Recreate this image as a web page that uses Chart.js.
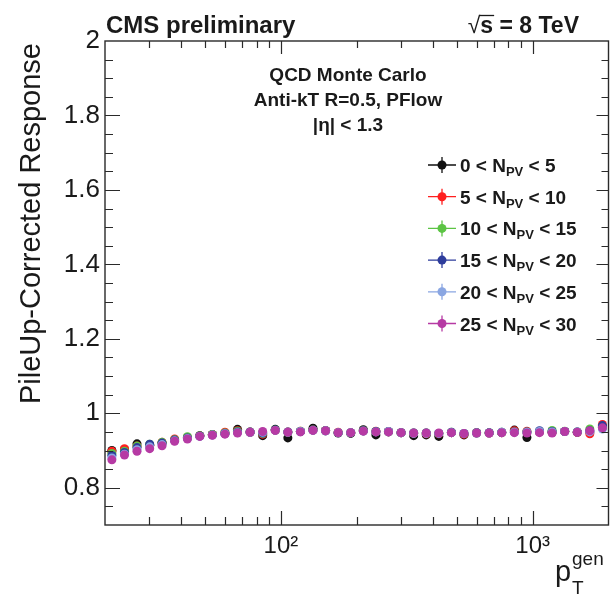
<!DOCTYPE html>
<html>
<head>
<meta charset="utf-8">
<script src="https://cdn.jsdelivr.net/npm/chart.js@4/dist/chart.umd.min.js"></script>
<style>
html,body{margin:0;padding:0;background:#fff;}
#wrap{width:613px;height:595px;}
</style>
</head>
<body>
<div id="wrap"><canvas id="c" width="613" height="595"></canvas></div>
<script>
// ---- data ----
const ptGen = [21.3, 23.9, 26.8, 30.1, 33.7, 37.8, 42.5, 47.6, 53.4, 59.9, 67.2, 75.4, 84.6, 94.9, 106.5, 119.5, 134.0, 150.4, 168.7, 189.3, 212.4, 238.3, 267.4, 300.0, 336.6, 377.6, 423.7, 475.4, 533.4, 598.5, 671.5, 753.4, 845.3, 948.4, 1064, 1194, 1340, 1503, 1686, 1892];
const npv0to5   = [0.900, 0.903, 0.918, 0.914, 0.920, 0.928, 0.934, 0.940, 0.943, 0.946, 0.957, 0.949, 0.940, 0.957, 0.934, 0.951, 0.960, 0.953, 0.947, 0.946, 0.956, 0.942, 0.950, 0.948, 0.940, 0.942, 0.938, 0.948, 0.942, 0.947, 0.947, 0.948, 0.955, 0.935, 0.950, 0.949, 0.951, 0.949, 0.950, 0.962];
const npv5to10  = [0.898, 0.905, 0.912, 0.914, 0.922, 0.931, 0.935, 0.940, 0.943, 0.949, 0.953, 0.950, 0.944, 0.954, 0.950, 0.952, 0.955, 0.954, 0.949, 0.948, 0.953, 0.952, 0.951, 0.948, 0.946, 0.945, 0.945, 0.948, 0.944, 0.948, 0.947, 0.948, 0.953, 0.952, 0.950, 0.949, 0.951, 0.949, 0.945, 0.970];
const npv10to15 = [0.892, 0.898, 0.912, 0.917, 0.922, 0.929, 0.937, 0.940, 0.943, 0.947, 0.952, 0.950, 0.946, 0.955, 0.949, 0.952, 0.955, 0.954, 0.948, 0.948, 0.953, 0.951, 0.951, 0.948, 0.947, 0.947, 0.946, 0.949, 0.946, 0.948, 0.948, 0.949, 0.950, 0.950, 0.951, 0.954, 0.952, 0.950, 0.958, 0.965];
const npv15to20 = [0.887, 0.895, 0.908, 0.917, 0.920, 0.928, 0.934, 0.939, 0.942, 0.946, 0.950, 0.950, 0.947, 0.955, 0.950, 0.951, 0.955, 0.953, 0.948, 0.948, 0.953, 0.951, 0.951, 0.948, 0.947, 0.947, 0.946, 0.949, 0.946, 0.948, 0.948, 0.949, 0.950, 0.950, 0.953, 0.951, 0.951, 0.950, 0.953, 0.967];
const npv20to25 = [0.880, 0.890, 0.902, 0.910, 0.916, 0.926, 0.932, 0.938, 0.942, 0.945, 0.948, 0.949, 0.949, 0.954, 0.949, 0.951, 0.954, 0.953, 0.948, 0.948, 0.952, 0.950, 0.951, 0.948, 0.946, 0.946, 0.946, 0.948, 0.946, 0.947, 0.947, 0.949, 0.949, 0.949, 0.951, 0.950, 0.951, 0.950, 0.950, 0.958];
const npv25to30 = [0.875, 0.888, 0.898, 0.905, 0.913, 0.925, 0.931, 0.938, 0.941, 0.944, 0.947, 0.949, 0.951, 0.954, 0.949, 0.950, 0.954, 0.953, 0.948, 0.948, 0.952, 0.950, 0.950, 0.948, 0.947, 0.947, 0.947, 0.948, 0.946, 0.947, 0.947, 0.948, 0.948, 0.947, 0.948, 0.947, 0.951, 0.949, 0.953, 0.961];
const seriesLo = ['0', '5', '10', '15', '20', '25'];
const seriesHi = ['5', '10', '15', '20', '25', '30'];
const seriesColors = ['#111111', '#ff1f1f', '#5cc444', '#2e3d9c', '#8aa6e2', '#b63aa4'];
const yTickValues = [0.8, 1.0, 1.2, 1.4, 1.6, 1.8, 2.0];
const yTickLabels = ['0.8', '1', '1.2', '1.4', '1.6', '1.8', '2'];
const xTickValues = [100, 1000];
const xTickLabels = ['10\u00B2', '10\u00B3'];
const xMinorTicks = [30, 40, 50, 60, 70, 80, 90, 200, 300, 400, 500, 600, 700, 800, 900];
const yTitle = 'PileUp-Corrected Response';
const infoLines = ['QCD Monte Carlo', 'Anti-kT R=0.5, PFlow', '|\u03B7| < 1.3'];

const allSeries = [npv0to5, npv5to10, npv10to15, npv15to20, npv20to25, npv25to30];

const datasets = allSeries.map((vals, i) => ({
  label: seriesLo[i] + ' < NPV < ' + seriesHi[i],
  data: vals.map((v, j) => ({x: ptGen[j], y: v})),
  backgroundColor: seriesColors[i],
  borderColor: seriesColors[i],
  pointRadius: 4.5,
  pointBorderWidth: 0,
  showLine: false,
  order: allSeries.length - i
}));

const FONT = '"Liberation Sans", Arial, Helvetica, sans-serif';
const AXC = '#2a2a2a';

const decor = {
  id: 'decor',
  afterDatasetsDraw(chart) {
    const ctx = chart.ctx, a = chart.chartArea;
    const xs = chart.scales.x, ys = chart.scales.y;
    ctx.save();
    ctx.strokeStyle = AXC;
    ctx.lineWidth = 1.4;
    ctx.strokeRect(a.left, a.top, a.right - a.left, a.bottom - a.top);
    ctx.lineWidth = 1.2;
    ctx.beginPath();
    xTickValues.forEach(v => {
      const px = Math.round(xs.getPixelForValue(v)) + 0.5;
      ctx.moveTo(px, a.bottom); ctx.lineTo(px, a.bottom - 14);
      ctx.moveTo(px, a.top); ctx.lineTo(px, a.top + 13);
    });
    xMinorTicks.forEach(v => {
      const px = Math.round(xs.getPixelForValue(v)) + 0.5;
      ctx.moveTo(px, a.bottom); ctx.lineTo(px, a.bottom - 8);
      ctx.moveTo(px, a.top); ctx.lineTo(px, a.top + 7);
    });
    for (let k = 15; k <= 39; k++) {
      const v = k * 0.05;
      const py = Math.round(ys.getPixelForValue(v)) + 0.5;
      const major = (k % 4 === 0);
      ctx.moveTo(a.left, py); ctx.lineTo(a.left + (major ? 15 : 8), py);
      ctx.moveTo(a.right, py); ctx.lineTo(a.right - (major ? 12 : 7), py);
    }
    ctx.stroke();
    ctx.restore();
  },
  afterDraw(chart) {
    const ctx = chart.ctx;
    ctx.save();
    ctx.fillStyle = '#1a1a1a';
    ctx.textBaseline = 'alphabetic';
    // header
    ctx.font = 'bold 24px ' + FONT;
    ctx.textAlign = 'left';
    ctx.fillText('CMS preliminary', 106, 33);
    ctx.font = 'bold 23px ' + FONT;
    ctx.textAlign = 'right';
    const rest = 's = 8 TeV';
    const restW = ctx.measureText(rest).width;
    const rx = 579;
    ctx.fillText(rest, rx, 33);
    const sW = ctx.measureText('s').width;
    ctx.font = '23px ' + FONT;
    ctx.fillText('\u221A', rx - restW, 33);
    ctx.strokeStyle = '#1a1a1a';
    ctx.lineWidth = 1.3;
    ctx.beginPath();
    ctx.moveTo(rx - restW - 1, 15.5); ctx.lineTo(rx - restW + sW + 1, 15.5);
    ctx.stroke();
    // info text
    ctx.font = 'bold 19px ' + FONT;
    ctx.textAlign = 'center';
    const cx = 348;
    ctx.fillText(infoLines[0], cx, 81);
    ctx.fillText(infoLines[1], cx, 106);
    ctx.fillText(infoLines[2], cx, 131);
    // legend
    for (let i = 0; i < seriesColors.length; i++) {
      const yc = 165 + i * 31.7;
      const mx = 442;
      ctx.strokeStyle = seriesColors[i];
      ctx.lineWidth = 1.3;
      ctx.beginPath();
      ctx.moveTo(428, yc); ctx.lineTo(456, yc);
      ctx.moveTo(mx, yc - 8); ctx.lineTo(mx, yc + 8);
      ctx.stroke();
      ctx.fillStyle = seriesColors[i];
      ctx.beginPath(); ctx.arc(mx, yc, 4.5, 0, Math.PI * 2); ctx.fill();
      ctx.fillStyle = '#1a1a1a';
      ctx.textAlign = 'left';
      ctx.font = 'bold 19px ' + FONT;
      let x = 460;
      const t1 = seriesLo[i] + ' < N';
      ctx.fillText(t1, x, yc + 7);
      x += ctx.measureText(t1).width;
      ctx.font = 'bold 13px ' + FONT;
      ctx.fillText('PV', x, yc + 11);
      x += ctx.measureText('PV').width;
      ctx.font = 'bold 19px ' + FONT;
      ctx.fillText(' < ' + seriesHi[i], x, yc + 7);
    }
    // y title
    ctx.save();
    ctx.translate(40, 43);
    ctx.rotate(-Math.PI / 2);
    ctx.font = '29px ' + FONT;
    ctx.textAlign = 'right';
    ctx.textBaseline = 'alphabetic';
    ctx.fillText(yTitle, 0, 0);
    ctx.restore();
    // x title p_T^gen
    ctx.textAlign = 'left';
    ctx.font = '29px ' + FONT;
    ctx.fillText('p', 555, 581);
    ctx.font = '19px ' + FONT;
    ctx.fillText('gen', 572, 565);
    ctx.fillText('T', 572, 594);
    ctx.restore();
  }
};

new Chart(document.getElementById('c'), {
  type: 'scatter',
  data: {datasets},
  options: {
    responsive: false,
    animation: false,
    events: [],
    layout: {padding: {left: 0, top: 41, right: 4, bottom: 0}},
    plugins: {legend: {display: false}, tooltip: {enabled: false}},
    scales: {
      x: {
        type: 'logarithmic',
        min: 20, max: 2000,
        grid: {display: false, drawTicks: false},
        border: {display: false},
        afterBuildTicks: s => { s.ticks = xTickValues.map(v => ({value: v})); },
        afterFit: s => { s.height = 70; },
        ticks: {
          autoSkip: false, maxRotation: 0, padding: 7,
          color: '#1a1a1a', font: {family: FONT, size: 24},
          callback: (v) => xTickLabels[xTickValues.indexOf(v)]
        }
      },
      y: {
        type: 'linear',
        min: 0.7, max: 2.0,
        grid: {display: false, drawTicks: false},
        border: {display: false},
        afterBuildTicks: s => { s.ticks = yTickValues.map(v => ({value: v})); },
        afterFit: s => { s.width = 105; },
        ticks: {
          autoSkip: false, padding: 5,
          color: '#1a1a1a', font: {family: FONT, size: 26},
          callback: (v) => yTickLabels[yTickValues.findIndex(t => Math.abs(t - v) < 1e-6)]
        }
      }
    }
  },
  plugins: [decor]
});
</script>
</body>
</html>
